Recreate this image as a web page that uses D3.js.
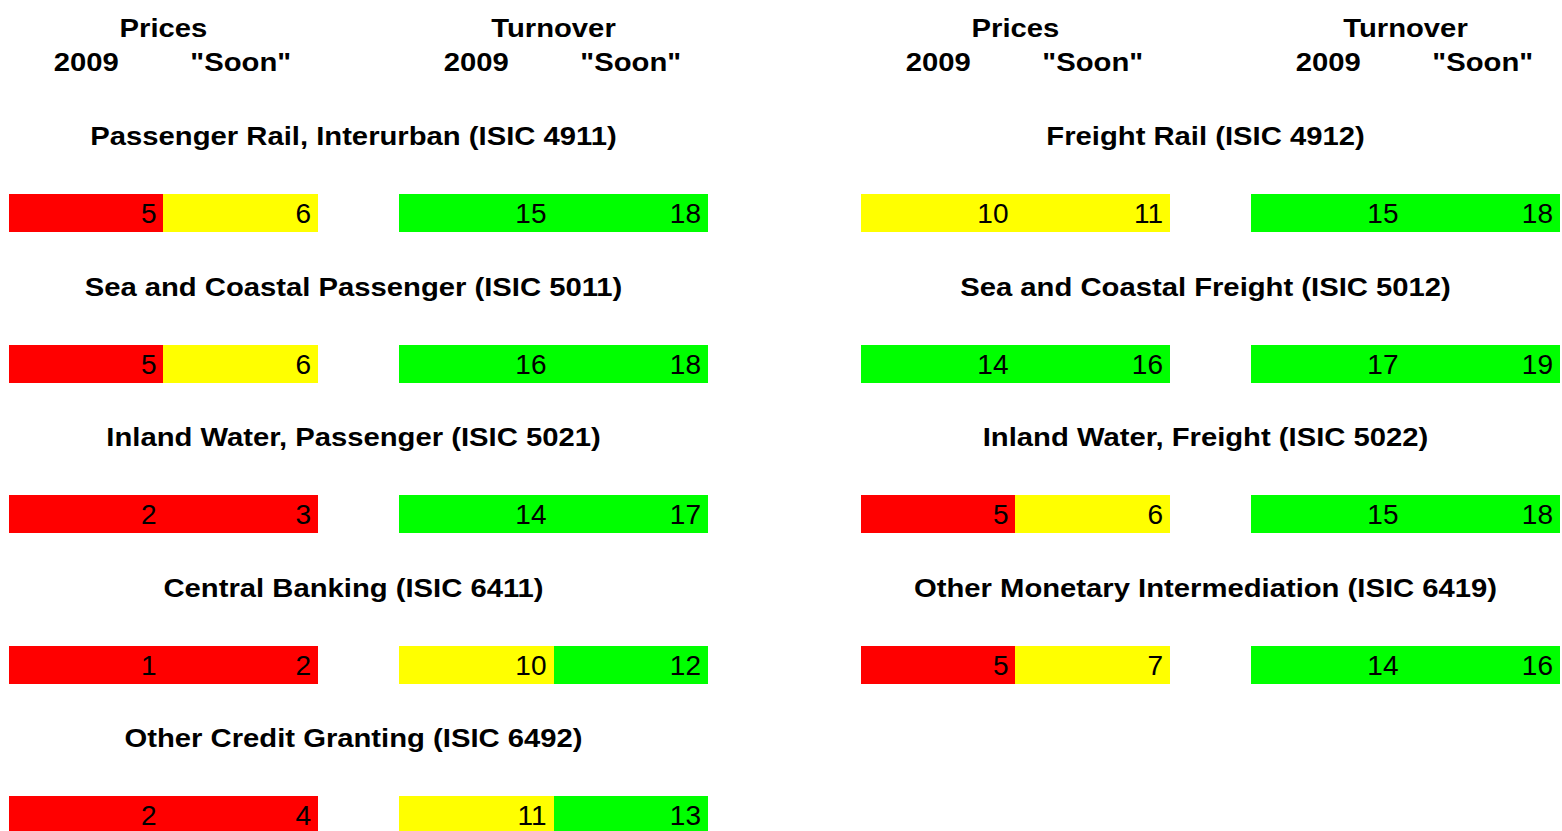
<!DOCTYPE html>
<html>
<head>
<meta charset="utf-8">
<script src="https://cdn.jsdelivr.net/npm/d3@7"></script>
<style>
  body { margin: 0; background: #fff; }
  svg { display: block; }
  text { font-family: "Liberation Sans", Arial, sans-serif; fill: #000; }
</style>
</head>
<body>
<svg width="1562" height="831"></svg>
<script>
const width = 1562, height = 831;

// sectors, column 0 = left panel, 1 = right panel
const sectors = [
  "Passenger Rail, Interurban (ISIC 4911)",
  "Sea and Coastal Passenger (ISIC 5011)",
  "Inland Water, Passenger (ISIC 5021)",
  "Central Banking (ISIC 6411)",
  "Other Credit Granting (ISIC 6492)",
  "Freight Rail (ISIC 4912)",
  "Sea and Coastal Freight (ISIC 5012)",
  "Inland Water, Freight (ISIC 5022)",
  "Other Monetary Intermediation (ISIC 6419)"
];
const sectorColumn = [0, 0, 0, 0, 0, 1, 1, 1, 1];
const sectorRow = [0, 1, 2, 3, 4, 0, 1, 2, 3];

const prices2009 = [5, 5, 2, 1, 2, 10, 14, 5, 5];
const pricesSoon = [6, 6, 3, 2, 4, 11, 16, 6, 7];
const turnover2009 = [15, 16, 14, 10, 11, 15, 17, 15, 14];
const turnoverSoon = [18, 18, 17, 12, 13, 18, 19, 18, 16];

const measures = ["Prices", "Turnover"];
const periods = ["2009", "\"Soon\""];

// score colours: red below 6, yellow 6-11, green 12+
const color = d3.scaleThreshold().domain([6, 12]).range(["#ff0000", "#ffff00", "#00ff00"]);

const svg = d3.select("svg");
const boldScale = 1.17; // reference text is a bit wider than Liberation Sans

const panelX = d3.scaleOrdinal().domain([0, 1]).range([9, 861]);
const panelWidth = 699;
const xMeasure = d3.scaleBand().domain(measures).range([0, panelWidth]).paddingInner(0.2077);
const xPeriod = d3.scaleBand().domain(periods).range([0, xMeasure.bandwidth()]);

const rowY = d3.scaleLinear().domain([0, 4]).range([194, 796]);
const barH = 38;

const cells = [];
sectors.forEach((s, i) => {
  const vals = [[prices2009[i], pricesSoon[i]], [turnover2009[i], turnoverSoon[i]]];
  measures.forEach((m, mi) => {
    periods.forEach((p, pi) => {
      cells.push({ sector: s, col: sectorColumn[i], row: sectorRow[i], measure: m, period: p, value: vals[mi][pi] });
    });
  });
});

const xOf = d => panelX(d.col) + xMeasure(d.measure) + xPeriod(d.period);

// headers
[0, 1].forEach(col => {
  const g = svg.append("g").attr("transform", `translate(${panelX(col)},0)`);
  measures.forEach(m => {
    g.append("text")
      .attr("transform", `translate(${xMeasure(m) + xMeasure.bandwidth() / 2},37) scale(${boldScale},1)`)
      .attr("text-anchor", "middle")
      .attr("font-size", 25)
      .attr("font-weight", "bold")
      .text(m);
    periods.forEach(p => {
      g.append("text")
        .attr("transform", `translate(${xMeasure(m) + xPeriod(p) + xPeriod.bandwidth() / 2},71) scale(${boldScale},1)`)
        .attr("text-anchor", "middle")
        .attr("font-size", 25)
        .attr("font-weight", "bold")
        .text(p);
    });
  });
});

// sector titles
svg.selectAll("text.title")
  .data(sectors)
  .enter().append("text")
  .attr("class", "title")
  .attr("transform", (d, i) => `translate(${panelX(sectorColumn[i]) + panelWidth / 2 - 5},${rowY(sectorRow[i]) - 49}) scale(${boldScale},1)`)
  .attr("text-anchor", "middle")
  .attr("font-size", 25)
  .attr("font-weight", "bold")
  .text(d => d);

// bars, edges rounded so neighbouring cells meet without a seam
svg.selectAll("rect.cell")
  .data(cells)
  .enter().append("rect")
  .attr("class", "cell")
  .attr("x", d => Math.round(xOf(d)))
  .attr("y", d => Math.round(rowY(d.row)))
  .attr("width", d => Math.round(xOf(d) + xPeriod.bandwidth()) - Math.round(xOf(d)))
  .attr("height", barH)
  .attr("shape-rendering", "crispEdges")
  .attr("fill", d => color(d.value));

svg.selectAll("text.value")
  .data(cells)
  .enter().append("text")
  .attr("class", "value")
  .attr("x", d => xOf(d) + xPeriod.bandwidth() - 7)
  .attr("y", d => rowY(d.row) + 29)
  .attr("text-anchor", "end")
  .attr("font-size", 28)
  .text(d => d.value);
</script>
</body>
</html>
